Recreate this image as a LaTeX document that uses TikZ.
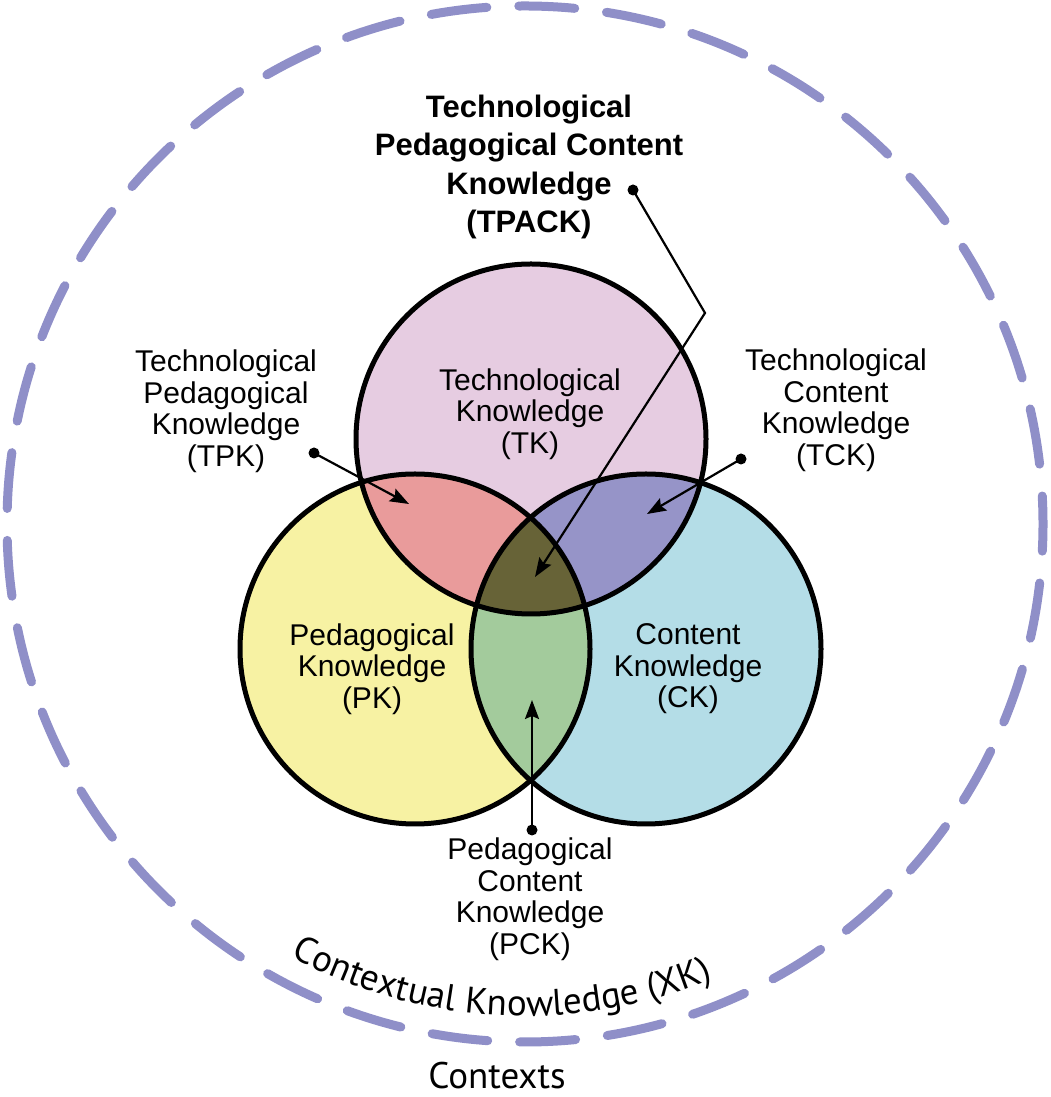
\documentclass[tikz,border=0pt]{standalone}
\usepackage{fontspec}
\setmainfont{Liberation Sans}
\newfontfamily\ctxfont{PT Sans}
\usetikzlibrary{arrows.meta, decorations.text}

\definecolor{ringblue}{RGB}{143,143,200}
\definecolor{tkfill}{RGB}{230,204,225}
\definecolor{pkfill}{RGB}{247,242,163}
\definecolor{ckfill}{RGB}{180,221,231}
\definecolor{tpkfill}{RGB}{233,155,155}
\definecolor{tckfill}{RGB}{150,148,200}
\definecolor{pckfill}{RGB}{163,203,156}
\definecolor{tpackfill}{RGB}{103,99,55}

\begin{document}
\begin{tikzpicture}[x=1pt, y=1pt, >={Stealth[length=19pt, width=14pt, inset=3pt]},
  lbl/.style={align=center, inner sep=0pt, font=\fontsize{30}{31.5}\selectfont},
  title/.style={align=center, inner sep=0pt, font=\bfseries\fontsize{31}{38.5}\selectfont},
  pointer/.style={->, line width=2.2pt},
  ctxlbl/.style={inner sep=0pt, font=\ctxfont\fontsize{37}{40}\selectfont}]

  \useasboundingbox (0,0) rectangle (1050,1097);

  % ── outer ring of contexts ──────────────────────────────────────────────
  \def\rr{518}
  \coordinate (ctx) at (525,573);
  \draw[ringblue, line width=9pt, line cap=round,
        dash pattern=on 56pt off 32pt, dash phase=28pt] (ctx) circle (\rr);

  % ── the three circles ──────────────────────────────────────────────────
  \def\vr{175}
  \coordinate (tk) at (531,658);
  \coordinate (pk) at (415,448);
  \coordinate (ck) at (646,448);

  \fill[tkfill] (tk) circle (\vr);
  \fill[pkfill] (pk) circle (\vr);
  \fill[ckfill] (ck) circle (\vr);

  % ── overlaps ───────────────────────────────────────────────────────────
  \begin{scope}
    \clip (pk) circle (\vr);
    \fill[tpkfill] (tk) circle (\vr);
  \end{scope}
  \begin{scope}
    \clip (ck) circle (\vr);
    \fill[tckfill] (tk) circle (\vr);
  \end{scope}
  \begin{scope}
    \clip (pk) circle (\vr);
    \fill[pckfill] (ck) circle (\vr);
  \end{scope}
  \begin{scope}
    \clip (pk) circle (\vr);
    \clip (ck) circle (\vr);
    \fill[tpackfill] (tk) circle (\vr);
  \end{scope}

  \foreach \c in {tk,pk,ck}{
    \draw[line width=5pt] (\c) circle (\vr);
  }

  % ── labels ─────────────────────────────────────────────────────────────
  \node[lbl] (tk label) at (530,683) {Technological\\Knowledge\\(TK)};
  \node[lbl] (pk label) at (372,428) {Pedagogical\\Knowledge\\(PK)};
  \node[lbl] (ck label) at (688,428) {Content\\Knowledge\\(CK)};
  \node[lbl] (tpk label) at (226,686) {Technological\\Pedagogical\\Knowledge\\(TPK)};
  \node[lbl] (tck label) at (836,687) {Technological\\Content\\Knowledge\\(TCK)};
  \node[lbl] (pck label) at (530,198) {Pedagogical\\Content\\Knowledge\\(PCK)};
  \node[title] (tpack label) at (529,930)
    {Technological\\Pedagogical Content\\Knowledge\\(TPACK)};

  % ── pointers ───────────────────────────────────────────────────────────
  \coordinate (tpk dot) at (314,644);
  \coordinate (tpk tip) at (409,593);
  \coordinate (tck dot) at (741,638);
  \coordinate (tck tip) at (647,583);
  \coordinate (pck dot) at (532,267);
  \coordinate (pck tip) at (532,397);
  \coordinate (tpack dot) at (633,907);
  \coordinate (tpack bend) at (705,784);
  \coordinate (tpack tip) at (535,520);

  \draw[pointer] (tpk dot) -- (tpk tip);
  \draw[pointer] (tck dot) -- (tck tip);
  \draw[pointer] (pck dot) -- (pck tip);
  \draw[pointer] (tpack dot) -- (tpack bend) -- (tpack tip);
  \foreach \d in {tpk,tck,pck,tpack}{
    \fill (\d\space dot) circle (5.5);
  }

  % ── contextual knowledge ───────────────────────────────────────────────
  \path[decorate, decoration={text along path, text align=center,
        text={|\ctxfont\fontsize{37}{40}\selectfont|Contextual Knowledge (XK)}}]
    (ctx) ++(-135:492) arc[start angle=-135, end angle=-51, radius=492];
  \node[ctxlbl, anchor=base] (ctx label) at (497,9) {Contexts};

\end{tikzpicture}
\end{document}
